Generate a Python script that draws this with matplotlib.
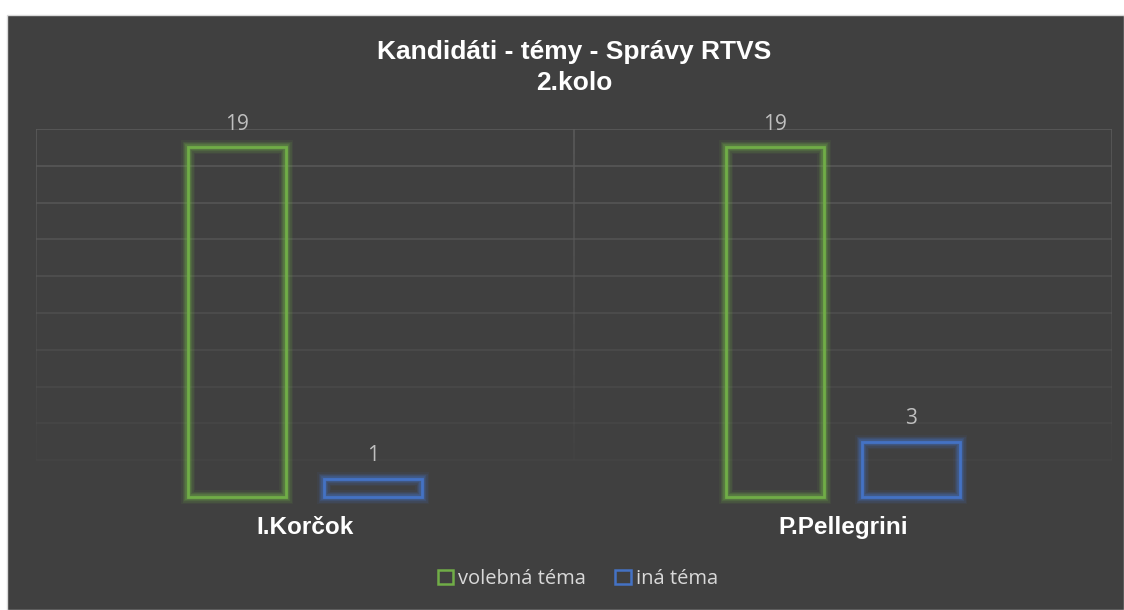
import numpy as np
import matplotlib
matplotlib.use("Agg")
import matplotlib.pyplot as plt
import matplotlib.patheffects as pe
from matplotlib.patches import Rectangle
from matplotlib.collections import LineCollection


candidates = ["I.Korčok", "P.Pellegrini"]
series_names = ["volebná téma", "iná téma"]
volebna = [19, 19]
ina = [1, 3]
title = "Kandidáti - témy - Správy RTVS\n2.kolo"

BG = "#404040"
GREEN = "#70ad47"
BLUE = "#4472c4"
GRID = "#5a5a5a"


def glow(color):
    effects = []
    for lw, a in [(10, 0.08), (8, 0.12), (6, 0.2), (4, 0.3)]:
        effects.append(pe.Stroke(linewidth=lw, foreground=color, alpha=a))
    effects.append(pe.Normal())
    return effects


def main():
    fig = plt.figure(figsize=(11.24, 6.10), dpi=100, facecolor="white")
    # dark chart area with thin white margin
    fig.patches.append(Rectangle((7 / 1124, 0), 1117 / 1124, 595 / 610,
                                 transform=fig.transFigure, facecolor=BG,
                                 edgecolor="#d9d9d9", linewidth=1, zorder=-5))

    # axes: x 36..1112 px, y value 0 at 497 px, 20 at 129 px
    left = 36 / 1124
    width = (1112 - 36) / 1124
    bottom = (610 - 497) / 610
    height = (497 - 129) / 610
    ax = fig.add_axes([left, bottom, width, height])
    ax.set_facecolor("none")
    ax.set_xlim(-0.5, 1.5)
    ax.set_ylim(0, 20)
    for s in ax.spines.values():
        s.set_visible(False)
    ax.set_xticks([])
    ax.set_yticks([])

    # fading horizontal grid
    for v in range(2, 21, 2):
        a = 0.15 + 0.85 * (v - 2) / 18
        ax.plot([-0.5, 1.5], [v, v], color=GRID, lw=1.2, alpha=a, zorder=1,
                solid_capstyle="butt")
    # fading vertical grid lines
    ys = np.linspace(2, 20, 40)
    for xv in [-0.5, 0.5, 1.5]:
        segs = [[(xv, ys[i]), (xv, ys[i + 1])] for i in range(len(ys) - 1)]
        alphas = 0.1 + 0.9 * (ys[:-1] - 2) / 18
        cols = [matplotlib.colors.to_rgba(GRID, a) for a in alphas]
        ax.add_collection(LineCollection(segs, colors=cols, linewidths=1.2, zorder=1))

    x = np.arange(len(candidates))
    bw = 0.182
    off = 0.126
    b1 = ax.bar(x - off, volebna, bw, facecolor="none", edgecolor=GREEN,
                linewidth=2, zorder=3, label=series_names[0])
    b2 = ax.bar(x + off, ina, bw, facecolor="none", edgecolor=BLUE,
                linewidth=2, zorder=3, label=series_names[1])
    for bars, col in [(b1, GREEN), (b2, BLUE)]:
        for r in bars:
            r.set_path_effects(glow(col))
            r.set_clip_on(False)
        labs = ax.bar_label(bars, padding=9, color="#bfbfbf", fontsize=15,
                            family="Open Sans")
        for t in labs:
            t.set_clip_on(False)

    for xi, name in zip(x, candidates):
        ax.text(xi, -1.65, name, ha="center", va="center", color="white",
                fontsize=17.5, fontweight="bold", family="Liberation Sans")

    fig.text(574 / 1124, 1 - 67.5 / 610, title, ha="center", va="center",
             color="white", fontsize=19, fontweight="bold",
             family="Liberation Sans", linespacing=1.4)

    leg = fig.legend(handles=[b1, b2], labels=series_names, loc="center",
                     bbox_to_anchor=(578 / 1124, 1 - 579 / 610), ncol=2,
                     frameon=False, handlelength=0.75, handleheight=0.75,
                     handletextpad=0.25, columnspacing=1.45,
                     prop={"family": "Open Sans", "size": 14.5})
    for t in leg.get_texts():
        t.set_color("#d9d9d9")
    for h in leg.legend_handles:
        h.set_path_effects([])
        h.set_linewidth(1.8)

    fig.savefig("out.png", dpi=100, facecolor="white")


if __name__ == "__main__":
    main()
